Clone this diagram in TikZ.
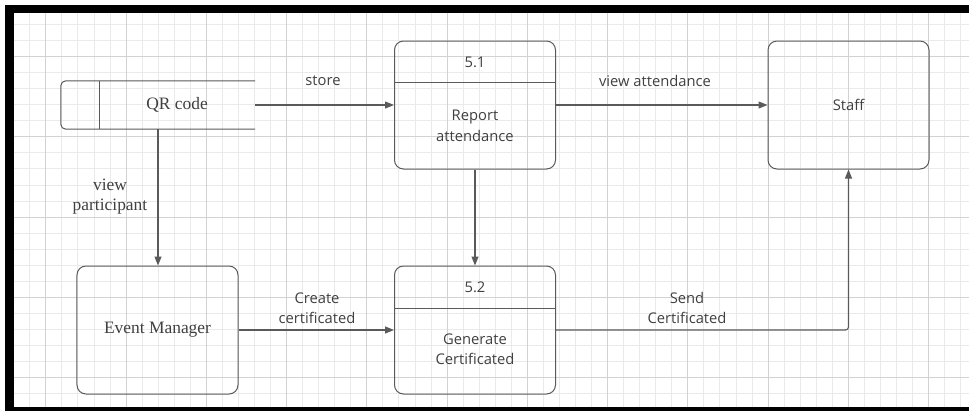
\documentclass[tikz,border=0pt]{standalone}
\usepackage{fontspec}
\setmainfont{Liberation Serif}
\newfontfamily\labelsans{Open Sans}
\usetikzlibrary{arrows.meta}
\definecolor{gridminor}{HTML}{EAEAEA}
\definecolor{gridmajor}{HTML}{D2D2D2}
\definecolor{edge}{HTML}{5A5A5A}
\definecolor{ink}{HTML}{404040}

\begin{document}
\begin{tikzpicture}[x=1bp,y=-1bp,
  box/.style={draw=edge, line width=1bp, rounded corners=9bp,
    minimum width=161bp, minimum height=128bp, inner sep=0pt},
  flow/.style={draw=edge, line width=1.1bp, -{Triangle[length=9bp,width=7bp]}},
  seriftext/.style={font=\fontsize{17.5}{20}\selectfont, text=ink, align=center, inner sep=0pt},
  sanstext/.style={font=\labelsans\fontsize{14.8}{20.5}\selectfont, text=ink, align=center, inner sep=0pt}]

\useasboundingbox (0,0) rectangle (969,411);
\fill[white] (0,0) rectangle (969,411);

% background grid
\begin{scope}
  \clip (14,13) rectangle (969,407);
  \foreach \i in {-7,...,53}
    \draw[gridminor, line width=0.8bp] ({126+16.05*\i},13) -- ({126+16.05*\i},407);
  \foreach \j in {-13,...,12}
    \draw[gridminor, line width=0.8bp] (14,{217+16.05*\j}) -- (969,{217+16.05*\j});
  \foreach \i in {-1,...,10}
    \draw[gridmajor, line width=0.9bp] ({126+80.25*\i},13) -- ({126+80.25*\i},407);
  \foreach \j in {-2,...,2}
    \draw[gridmajor, line width=0.9bp] (14,{217+80.25*\j}) -- (969,{217+80.25*\j});
\end{scope}

% black frame
\fill[black] (5,5) rectangle (969,13);
\fill[black] (5,5) rectangle (14,411);
\fill[black] (5,407) rectangle (969,411);

% data store
\node[minimum width=194bp, minimum height=48bp, inner sep=0pt] (qr) at (158,105) {};
\draw[draw=edge, line width=1bp, rounded corners=5bp]
  (qr.north east) -- (qr.north west) -- (qr.south west) -- (qr.south east);
\draw[draw=edge, line width=1bp] ([xshift=39bp]qr.north west) -- ([xshift=39bp]qr.south west);
\node[seriftext] (qrtext) at (177,105) {QR code};

% external entities
\node[box, seriftext] (evm) at (157.5,330) {Event Manager};
\node[box, sanstext] (staff) at (848.5,105) {Staff};

% processes
\node[box] (p51) at (475,105) {};
\draw[draw=edge, line width=1bp] (p51.west |- 0,82) -- (p51.east |- 0,82);
\node[sanstext] (p51id) at (475,62) {5.1};
\node[sanstext] (p51name) at (475,126) {Report\\attendance};

\node[box] (p52) at (475,330) {};
\draw[draw=edge, line width=1bp] (p52.west |- 0,308) -- (p52.east |- 0,308);
\node[sanstext] (p52id) at (475,287) {5.2};
\node[sanstext] (p52name) at (475,349) {Generate\\Certificated};

% data flows
\draw[flow] (qr.east) -- (p51.west);
\draw[flow] (p51.east) -- (staff.west);
\draw[flow] (p51.south) -- (p52.north);
\draw[flow] (qr.south) -- (qr.south |- evm.north);
\draw[flow] (evm.east) -- (p52.west);
\draw[flow, rounded corners=3bp] (p52.east) -| (staff.south);

% flow labels
\node[sanstext] (lstore) at (323,81) {store};
\node[sanstext] (lview) at (655,81) {view attendance};
\node[seriftext] (lpart) at (110,197) {view\\participant};
\node[sanstext] (lcreate) at (317,308) {Create\\certificated};
\node[sanstext] (lsend) at (687,308) {Send\\Certificated};
\end{tikzpicture}
\end{document}
